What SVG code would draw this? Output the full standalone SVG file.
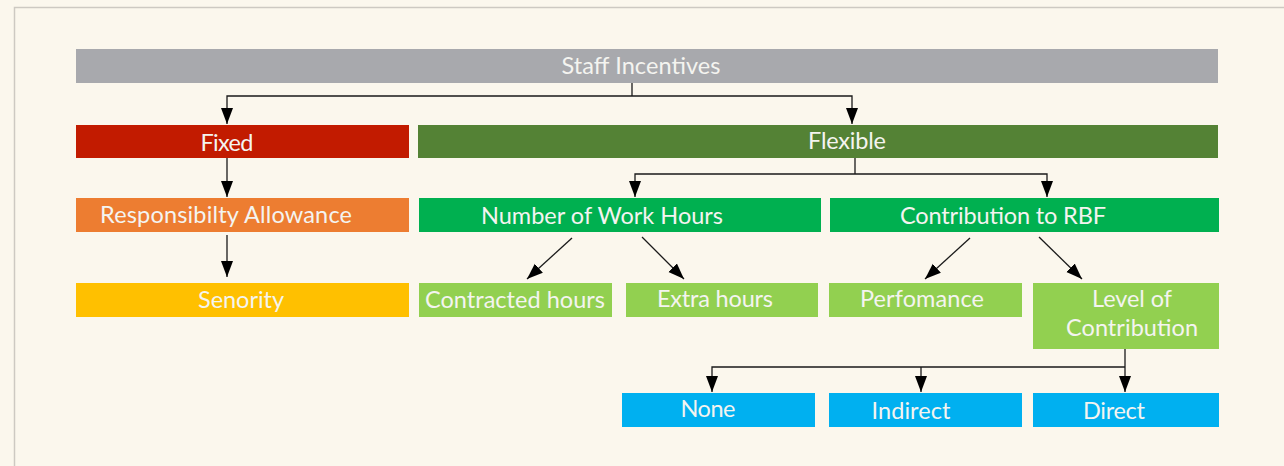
<svg xmlns="http://www.w3.org/2000/svg" width="1284" height="466" viewBox="0 0 1284 466">
  <defs>
    <marker id="head" markerUnits="userSpaceOnUse" markerWidth="17" markerHeight="13" viewBox="0 0 17 13" refX="16" refY="6.5" orient="auto">
      <path d="M0,0.5 L16,6.5 L0,12.5 Z" fill="#000"/>
    </marker>
    <style>
      .box text { font-family: Lato, "Open Sans", "Liberation Sans", sans-serif; font-size: 23.5px; fill: #f4f4f0; text-anchor: middle; }
      .conn path { fill: none; stroke: #1a1a1a; stroke-width: 1.3; }
      .conn .arr { marker-end: url(#head); }
    </style>
  </defs>

  <!-- page -->
  <rect x="0" y="0" width="1284" height="466" fill="#fbf7ed"/>
  <rect x="14.5" y="7.5" width="1290" height="470" fill="none" stroke="#cdc9c2" stroke-width="1.5"/>

  <!-- connectors -->
  <g id="connectors" class="conn">
    <path d="M632,83 V96"/>
    <path class="arr" d="M632,96 H227 V124"/>
    <path class="arr" d="M632,96 H852 V124"/>
    <path class="arr" d="M227,158 V197"/>
    <path d="M855,158 V174"/>
    <path class="arr" d="M855,174 H635 V197"/>
    <path class="arr" d="M855,174 H1047 V197"/>
    <path class="arr" d="M227,235 V277"/>
    <path class="arr" d="M572,238 L527,279"/>
    <path class="arr" d="M642,237 L684,279"/>
    <path class="arr" d="M970,238 L925,279"/>
    <path class="arr" d="M1039,237 L1082,279"/>
    <path d="M1125,349 V367"/>
    <path class="arr" d="M1125,367 H712 V392"/>
    <path class="arr" d="M921,367 V392"/>
    <path class="arr" d="M1125,367 V392"/>
  </g>

  <g id="staff-incentives" class="box">
    <rect x="76" y="49" width="1142" height="34" fill="#a8a9ad"/>
    <text x="641" y="74" textLength="159">Staff Incentives</text>
  </g>
  <g id="fixed" class="box">
    <rect x="76" y="125" width="333" height="33" fill="#c21b00"/>
    <text x="227" y="151" textLength="53">Fixed</text>
  </g>
  <g id="flexible" class="box">
    <rect x="418" y="125" width="800" height="33" fill="#548235"/>
    <text x="847" y="149" textLength="78">Flexible</text>
  </g>
  <g id="responsibility-allowance" class="box">
    <rect x="76" y="198" width="333" height="34" fill="#ed7d31"/>
    <text x="226" y="223" textLength="252">Responsibilty Allowance</text>
  </g>
  <g id="work-hours" class="box">
    <rect x="419" y="198" width="402" height="34" fill="#00b050"/>
    <text x="602" y="224" textLength="242">Number of Work Hours</text>
  </g>
  <g id="contribution-rbf" class="box">
    <rect x="830" y="198" width="389" height="34" fill="#00b050"/>
    <text x="1003" y="224" textLength="206">Contribution to RBF</text>
  </g>
  <g id="seniority" class="box">
    <rect x="76" y="283" width="333" height="34" fill="#ffc000"/>
    <text x="241" y="308" textLength="86">Senority</text>
  </g>
  <g id="contracted-hours" class="box">
    <rect x="419" y="283" width="193" height="34" fill="#92d050"/>
    <text x="515" y="308" textLength="180">Contracted hours</text>
  </g>
  <g id="extra-hours" class="box">
    <rect x="626" y="283" width="192" height="34" fill="#92d050"/>
    <text x="715" y="307" textLength="116">Extra hours</text>
  </g>
  <g id="performance" class="box">
    <rect x="829" y="283" width="193" height="34" fill="#92d050"/>
    <text x="922" y="307" textLength="124">Perfomance</text>
  </g>
  <g id="level-of-contribution" class="box">
    <rect x="1033" y="283" width="186" height="66" fill="#92d050"/>
    <text x="1132" y="307" textLength="80">Level of</text>
    <text x="1132" y="336" textLength="132">Contribution</text>
  </g>
  <g id="none" class="box">
    <rect x="622" y="393" width="193" height="34" fill="#00b0f0"/>
    <text x="708" y="417" textLength="55">None</text>
  </g>
  <g id="indirect" class="box">
    <rect x="829" y="393" width="193" height="34" fill="#00b0f0"/>
    <text x="911" y="419" textLength="79">Indirect</text>
  </g>
  <g id="direct" class="box">
    <rect x="1033" y="393" width="186" height="34" fill="#00b0f0"/>
    <text x="1114" y="419" textLength="62">Direct</text>
  </g>
</svg>
